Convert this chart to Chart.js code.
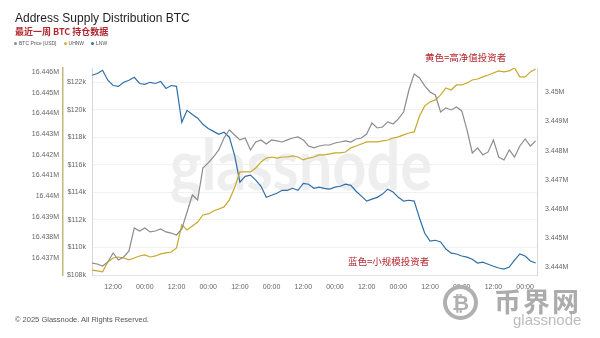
<!DOCTYPE html>
<html>
<head>
<meta charset="utf-8">
<script src="https://cdn.jsdelivr.net/npm/chart.js@4.4.1/dist/chart.umd.min.js"></script>
<style>
  html, body { margin: 0; padding: 0; background: #fff; }
  #wrap { position: relative; width: 600px; height: 338px; overflow: hidden; font-family: Arial, "Liberation Sans", sans-serif; }
  #wrap canvas { position: absolute; left: 0; top: 0; }
  .abs { position: absolute; white-space: nowrap; }
  .title { left: 15px; top: 11px; font-size: 12px; color: #1e1e1e; }
  .sub { left: 15px; top: 25px; font-size: 9px; font-weight: bold; color: #b3262e; font-family: "Noto Sans CJK SC", sans-serif; }
  .legend { left: 14px; top: 40px; font-size: 5px; color: #555; line-height: 7px; }
  .legend span { display: inline-block; margin-right: 7px; }
  .legend i { display: inline-block; width: 3px; height: 3px; border-radius: 50%; margin-right: 2px; vertical-align: middle; }
  .note { font-size: 9.5px; color: #b3262e; font-family: "Noto Sans CJK SC", sans-serif; }
  .footer { left: 15px; top: 315px; font-size: 7.5px; color: #555; }
  .logo-ring { left: 443px; top: 285px; width: 27px; height: 27px; border: 4px solid #b0b0b0; border-radius: 50%; color: #b0b0b0; font-size: 21px; font-weight: bold; text-align: center; line-height: 27px; }
  .logo-cn { left: 494px; top: 287px; font-size: 27px; line-height: 27px; font-weight: bold; color: #acacac; font-family: "Noto Sans CJK SC", sans-serif; letter-spacing: 2px; }
  .logo-en { left: 513px; top: 312px; font-size: 15px; line-height: 15px; color: #bcbcbc; }
</style>
</head>
<body>
<div id="wrap">
  <canvas id="supplyChart" width="600" height="338"></canvas>
  <div class="abs title">Address Supply Distribution BTC</div>
  <div class="abs sub">最近一周 BTC 持仓数据</div>
  <div class="abs legend">
    <span><i style="background:#8c8c8c"></i>BTC Price [USD]</span><span><i style="background:#d4b22c"></i>UHNW</span><span><i style="background:#2f6fa8"></i>LNW</span>
  </div>
  <div class="abs note" style="left:425px; top:50px;">黄色=高净值投资者</div>
  <div class="abs note" style="left:348px; top:254px;">蓝色=小规模投资者</div>
  <div class="abs footer">© 2025 Glassnode. All Rights Reserved.</div>
  <div class="abs logo-ring">₿</div>
  <div class="abs logo-cn">币界网</div>
  <div class="abs logo-en">glassnode</div>
</div>
<script>
// sampling: one point every 2 hours, starting 04:00 on the first day
var startHour = 4;
var stepHours = 2;

var xTicks = [12, 24, 36, 48, 60, 72, 84, 96, 108, 120, 132, 144, 156, 168];
var priceTicks = [108, 110, 112, 114, 116, 118, 120, 122];
var uhnwTicks = [16.437, 16.438, 16.439, 16.44, 16.441, 16.442, 16.443, 16.444, 16.445, 16.446];
var lnwTicks = [3.444, 3.445, 3.446, 3.447, 3.448, 3.449, 3.45];

// BTC price, $k
var btcPrice = [
  108.87, 108.8, 108.65, 108.95, 109.6, 109.09, 109.31, 109.75, 111.42, 111.2,
  111.42, 111.13, 111.2, 111.35, 111.13, 111.05, 110.91, 111.35, 112.58, 113.82,
  113.45, 115.78, 116.15, 116.58, 117.09, 117.96, 118.55, 118.18, 117.82, 117.96,
  117.09, 117.67, 117.82, 117.53, 117.82, 117.75, 117.67, 117.82, 117.96, 118.04,
  117.82, 117.38, 117.24, 117.38, 117.45, 117.45, 117.6, 117.67, 117.75, 117.67,
  117.89, 117.96, 118.25, 119.05, 118.69, 118.76, 119.13, 118.98, 119.35, 119.85,
  121.45, 122.62, 122.33, 121.75, 121.31, 121.09, 119.85, 120.15, 120.0, 120.22,
  119.93, 118.55, 116.87, 117.24, 116.73, 116.95, 117.82, 116.58, 116.36, 117.09,
  116.58, 117.38, 117.89, 117.38, 117.75
];

// UHNW supply, M BTC
var uhnw = [
  16.43643, 16.43639, 16.43634, 16.43682, 16.43701, 16.43706, 16.43701, 16.43692, 16.43701, 16.43711,
  16.43716, 16.43706, 16.43711, 16.43721, 16.43726, 16.4373, 16.4375, 16.43861, 16.43837, 16.43856,
  16.43875, 16.43909, 16.43914, 16.43928, 16.43938, 16.43948, 16.43982, 16.4404, 16.44117, 16.44117,
  16.44117, 16.44136, 16.44165, 16.44184, 16.44189, 16.44184, 16.44189, 16.44189, 16.44194, 16.44189,
  16.44175, 16.44184, 16.44189, 16.44199, 16.44199, 16.44204, 16.44209, 16.44209, 16.44213, 16.44233,
  16.44242, 16.44252, 16.44262, 16.44262, 16.44262, 16.44267, 16.44271, 16.44281, 16.44286, 16.44296,
  16.44305, 16.4431, 16.44387, 16.44436, 16.44455, 16.44465, 16.44489, 16.44523, 16.44513, 16.44537,
  16.44537, 16.44547, 16.44561, 16.44566, 16.44576, 16.44585, 16.44595, 16.44605, 16.446, 16.44605,
  16.44619, 16.44576, 16.44576, 16.446, 16.44614
];

// LNW supply, M BTC
var lnw = [
  3.45058, 3.45064, 3.45075, 3.45041, 3.45023, 3.4502, 3.45034, 3.45041, 3.45051, 3.4503,
  3.45027, 3.45034, 3.4503, 3.45037, 3.45013, 3.45023, 3.4502, 3.44897, 3.44938, 3.44924,
  3.44911, 3.4489, 3.44876, 3.44866, 3.44856, 3.44863, 3.44846, 3.44784, 3.44692, 3.44712,
  3.44716, 3.44699, 3.44678, 3.4464, 3.44647, 3.44654, 3.44664, 3.44664, 3.44671, 3.44664,
  3.44688, 3.44685, 3.44671, 3.44675, 3.44671, 3.44668, 3.44675, 3.44678, 3.44685, 3.44681,
  3.44661, 3.44644, 3.44627, 3.44634, 3.4464, 3.44651, 3.44668, 3.44658, 3.4464, 3.44627,
  3.4463, 3.44627, 3.44569, 3.44517, 3.4449, 3.44493, 3.44487, 3.44463, 3.44449, 3.44446,
  3.44439, 3.44435, 3.44428, 3.44415, 3.44418, 3.44411, 3.44404, 3.44398, 3.44394, 3.44401,
  3.44425, 3.44446, 3.44439, 3.44422, 3.44415
];

function toPoints(values) {
  return values.map(function (v, i) { return { x: startHour + i * stepHours, y: v }; });
}

function fixedTicks(list) {
  return function (scale) { scale.ticks = list.map(function (v) { return { value: v }; }); };
}

var tickFont = { family: 'Arial, "Liberation Sans", sans-serif', size: 7 };
var tickColor = '#666';

// big faint brand mark behind the lines
var watermark = {
  id: 'watermark',
  beforeDatasetsDraw: function (chart) {
    var ctx = chart.ctx;
    var text = 'glassnode';
    ctx.save();
    ctx.font = '700 70px Lato, "DejaVu Sans", sans-serif';
    ctx.fillStyle = '#eeeeee';
    var w = ctx.measureText(text).width;
    ctx.translate(170, 190);
    ctx.scale(262 / w, 1);
    ctx.fillText(text, 0, 0);
    ctx.restore();
  }
};

new Chart(document.getElementById('supplyChart'), {
  type: 'line',
  data: {
    datasets: [
      {
        label: 'BTC Price [USD]',
        data: toPoints(btcPrice),
        borderColor: '#8c8c8c',
        borderWidth: 1.2,
        pointRadius: 0,
        tension: 0,
        yAxisID: 'yPrice'
      },
      {
        label: 'UHNW',
        data: toPoints(uhnw),
        borderColor: '#c9a82a',
        borderWidth: 1.2,
        pointRadius: 0,
        tension: 0,
        yAxisID: 'yUhnw'
      },
      {
        label: 'LNW',
        data: toPoints(lnw),
        borderColor: '#2f6fa8',
        borderWidth: 1.2,
        pointRadius: 0,
        tension: 0,
        yAxisID: 'yLnw'
      }
    ]
  },
  options: {
    responsive: false,
    animation: false,
    events: [],
    layout: { padding: { left: 0, right: 0, top: 68, bottom: 43 } },
    plugins: { legend: { display: false }, tooltip: { enabled: false } },
    scales: {
      x: {
        type: 'linear',
        min: 4,
        max: 172.5,
        grid: { display: false, drawTicks: false },
        border: { color: '#e4e4e4' },
        ticks: {
          font: tickFont,
          color: tickColor,
          padding: 8,
          maxRotation: 0,
          autoSkip: false,
          callback: function (v) { return v % 24 === 12 ? '12:00' : '00:00'; }
        },
        afterBuildTicks: fixedTicks(xTicks),
        afterFit: function (s) { s.height = 20; }
      },
      yUhnw: {
        position: 'left',
        weight: 2,
        min: 16.43619,
        max: 16.44619,
        grid: { drawOnChartArea: false, drawTicks: false },
        border: { color: '#c4b87e', width: 1.5 },
        ticks: {
          font: tickFont,
          color: tickColor,
          padding: 4,
          autoSkip: false,
          callback: function (v) { return parseFloat(v.toFixed(3)) + 'M'; }
        },
        afterBuildTicks: fixedTicks(uhnwTicks),
        afterFit: function (s) { s.width = 63; }
      },
      yPrice: {
        position: 'left',
        weight: 1,
        min: 108,
        max: 123.05,
        grid: { color: '#f1f1f1', drawTicks: false },
        border: { color: '#d6d6d6' },
        ticks: {
          font: tickFont,
          color: tickColor,
          padding: 6,
          autoSkip: false,
          callback: function (v) { return '$' + v + 'k'; }
        },
        afterBuildTicks: fixedTicks(priceTicks),
        afterFit: function (s) { s.width = 29; }
      },
      yLnw: {
        position: 'right',
        min: 3.44374,
        max: 3.45083,
        grid: { drawOnChartArea: false, drawTicks: false },
        border: { color: '#d6d6d6' },
        ticks: {
          font: tickFont,
          color: tickColor,
          padding: 8,
          autoSkip: false,
          callback: function (v) { return parseFloat(v.toFixed(3)) + 'M'; }
        },
        afterBuildTicks: fixedTicks(lnwTicks),
        afterFit: function (s) { s.width = 63; }
      }
    }
  },
  plugins: [watermark]
});
</script>
</body>
</html>
